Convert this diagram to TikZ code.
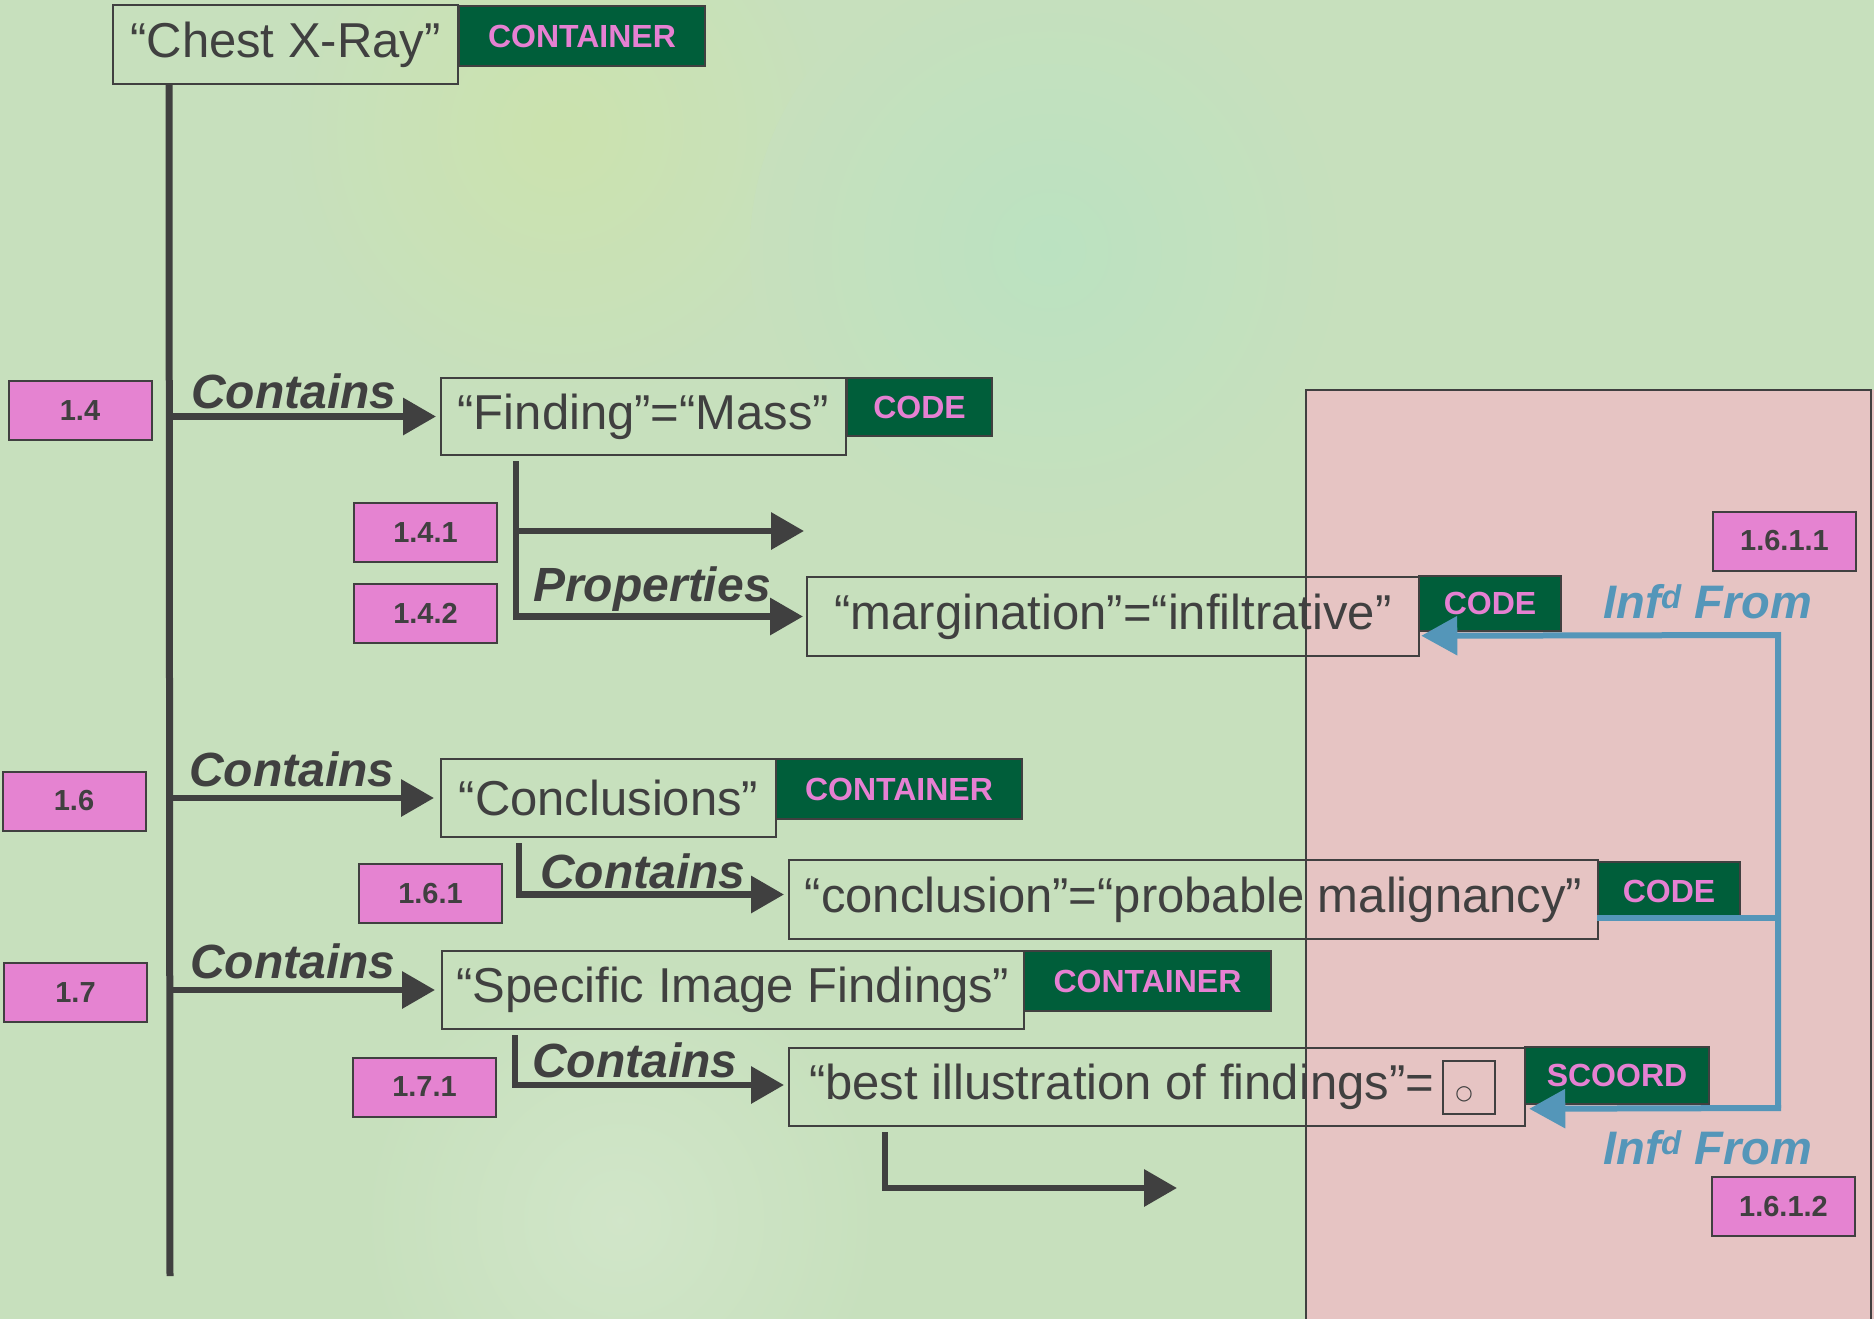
\documentclass[tikz,border=0pt]{standalone}
\usepackage{fontspec}
\setmainfont{Liberation Sans}
\newfontfamily\djv{DejaVu Sans}
\usetikzlibrary{arrows.meta}
\definecolor{bg}{RGB}{199,224,189}
\definecolor{dk}{RGB}{64,64,64}
\definecolor{dgreen}{RGB}{0,94,58}
\definecolor{pinktxt}{RGB}{230,128,210}
\definecolor{pinkbox}{RGB}{229,131,209}
\definecolor{panel}{RGB}{230,196,195}
\definecolor{blueln}{RGB}{84,150,185}
\begin{document}
\begin{tikzpicture}[x=1pt,y=-1pt,
 wbox/.style={draw=dk, line width=2pt, text=dk, inner sep=0pt, font=\fontsize{49}{58}\selectfont},
 gbox/.style={draw=dk, line width=1.5pt, fill=dgreen, text=pinktxt, inner sep=0pt, font=\fontsize{32}{38}\selectfont\bfseries},
 nbox/.style={draw=dk, line width=2pt, fill=pinkbox, text=dk, inner sep=0pt, minimum width=143pt, minimum height=59pt, font=\fontsize{29}{34}\selectfont\bfseries},
 rel/.style={text=dk, font=\fontsize{48}{56}\selectfont\bfseries\itshape, anchor=base, inner sep=0pt},
 inf/.style={text=blueln, font=\fontsize{47}{56}\selectfont\bfseries\itshape, anchor=base, inner sep=0pt},
 trunk/.style={draw=dk, line width=7pt},
 arr/.style={draw=dk, line width=6.5pt, -{Triangle[length=33pt,width=36pt]}},
 bline/.style={draw=blueln, line width=6pt},
 barr/.style={draw=blueln, line width=6pt, line join=miter, -{Triangle[length=36pt,width=38pt]}},
]
\useasboundingbox (0,0) rectangle (1874,1319);
% background
\fill[bg] (0,0) rectangle (1874,1319);
\shade[inner color=yellow!8!bg, outer color=bg] (560,130) circle (280);
\shade[inner color=cyan!6!bg, outer color=bg] (1050,250) circle (300);
\shade[inner color=white!18!bg, outer color=bg] (620,1220) circle (260);
% pink panel
\fill[panel] (1306,390) rectangle (1874,1319);
\draw[dk, line width=1.5pt] (1306,1319) -- (1306,390) -- (1871,390) -- (1871,1319);

% nodes
\node[wbox, minimum width=345pt, minimum height=79pt] (chest) at (285.5,44.5) {“Chest X-Ray”};
\node[gbox, minimum width=246pt, minimum height=60pt] (cont1) at (582,36) {CONTAINER};

\node[nbox] (l14) at (80,410.5) {1.4};
\node[wbox, minimum width=405pt, minimum height=77pt] (finding) at (643.5,416.5) {“Finding”=“Mass”};
\node[gbox, minimum width=145pt, minimum height=58pt] (code1) at (919.5,407) {CODE};

\node[nbox] (l141) at (425.5,532.5) {1.4.1};
\node[nbox] (l142) at (425.5,613) {1.4.2};
\node[wbox, minimum width=612pt, minimum height=79pt] (marg) at (1113,616.5) {“margination”=“infiltrative”};
\node[gbox, minimum width=142pt, minimum height=55pt] (code2) at (1490,603.5) {CODE};
\node[nbox] (l1611) at (1784.5,541) {1.6.1.1};

\node[nbox] (l16) at (74,801) {1.6};
\node[wbox, minimum width=335pt, minimum height=78pt] (concl) at (608.5,798) {“Conclusions”};
\node[gbox, minimum width=246pt, minimum height=60pt] (cont2) at (899,789) {CONTAINER};
\node[nbox] (l161) at (430.5,893.5) {1.6.1};
\node[wbox, minimum width=809pt, minimum height=79pt] (conc) at (1193.5,899.5) {“conclusion”=“probable malignancy”};
\node[gbox, minimum width=142pt, minimum height=58pt] (code3) at (1669,891) {CODE};

\node[nbox] (l17) at (75.5,992.5) {1.7};
\node[wbox, minimum width=582pt, minimum height=78pt] (spec) at (733,990) {“Specific Image Findings”};
\node[gbox, minimum width=247pt, minimum height=60pt] (cont3) at (1147.5,981) {CONTAINER};
\node[nbox] (l171) at (424.5,1087) {1.7.1};
\node[wbox, minimum width=736pt, minimum height=78pt] (best) at (1157,1087) {\makebox[696pt][l]{“best illustration of findings”=}};
\node[draw=dk, line width=2pt, minimum width=52pt, minimum height=53pt, inner sep=0pt] (sq) at (1469,1087.5) {};
\node[text=dk, inner sep=0pt, font=\djv\fontsize{20}{24}\selectfont] (circ) at ([xshift=-5pt,yshift=-7pt]sq.center) {○};
\node[gbox, minimum width=184pt, minimum height=57pt] (scoord) at (1617,1075.5) {SCOORD};
\node[nbox] (l1612) at (1783.5,1206.5) {1.6.1.2};

% relation labels
\node[rel] (rc1) at (294,408) {Contains};
\node[rel] (rprop) at (652,601) {Properties};
\node[rel] (rc2) at (292,786) {Contains};
\node[rel] (rc3) at (643,888) {Contains};
\node[rel] (rc4) at (293,978) {Contains};
\node[rel] (rc5) at (635,1077) {Contains};
\node[inf] (inf1) at (1708,618) {Inf\textsuperscript{d} From};
\node[inf] (inf2) at (1708,1164) {Inf\textsuperscript{d} From};

% trunk
\coordinate (trunkend) at (170,1276);
\draw[trunk] ([xshift=57pt]chest.south west) -- (trunkend);
\draw[arr] (trunkend |- finding.west) -- ([xshift=-4pt]finding.west);
\draw[arr] (trunkend |- concl.west) -- ([xshift=-6pt]concl.west);
\draw[arr] (trunkend |- spec.west) -- ([xshift=-6pt]spec.west);

% finding branch
\coordinate (fb) at ([xshift=76pt,yshift=-5pt]finding.south west);
\coordinate (p141end) at (804,531);
\draw[arr] (fb) |- ([xshift=-3pt]marg.west);
\draw[arr] (fb |- p141end) -- (p141end);

% conclusions branch
\coordinate (cb) at ([xshift=79pt,yshift=-5pt]concl.south west);
\draw[arr] (cb) |- ([yshift=5pt,xshift=-4pt]conc.west);

% specific branch
\coordinate (sb) at ([xshift=74pt,yshift=-5pt]spec.south west);
\draw[arr] (sb) |- ([yshift=2pt,xshift=-4pt]best.west);

% best branch
\coordinate (bb) at ([xshift=97pt,yshift=-5pt]best.south west);
\coordinate (bestend) at (1177,1188);
\draw[arr] (bb) |- (bestend);

% blue inferred-from links
\coordinate (btop) at (1778,635);
\coordinate (bbot) at (1778,1108);
\coordinate (c3b) at ([yshift=3pt]code3.south west);
\draw[bline] (c3b) -- ([xshift=3pt]c3b -| btop);
\draw[barr] (bbot) -- (btop) -- ([xshift=3pt,yshift=-4pt]code2.south west);
\draw[barr] ([xshift=3pt]bbot) -- ([xshift=5pt,yshift=-4pt]scoord.south west);
\end{tikzpicture}
\end{document}
